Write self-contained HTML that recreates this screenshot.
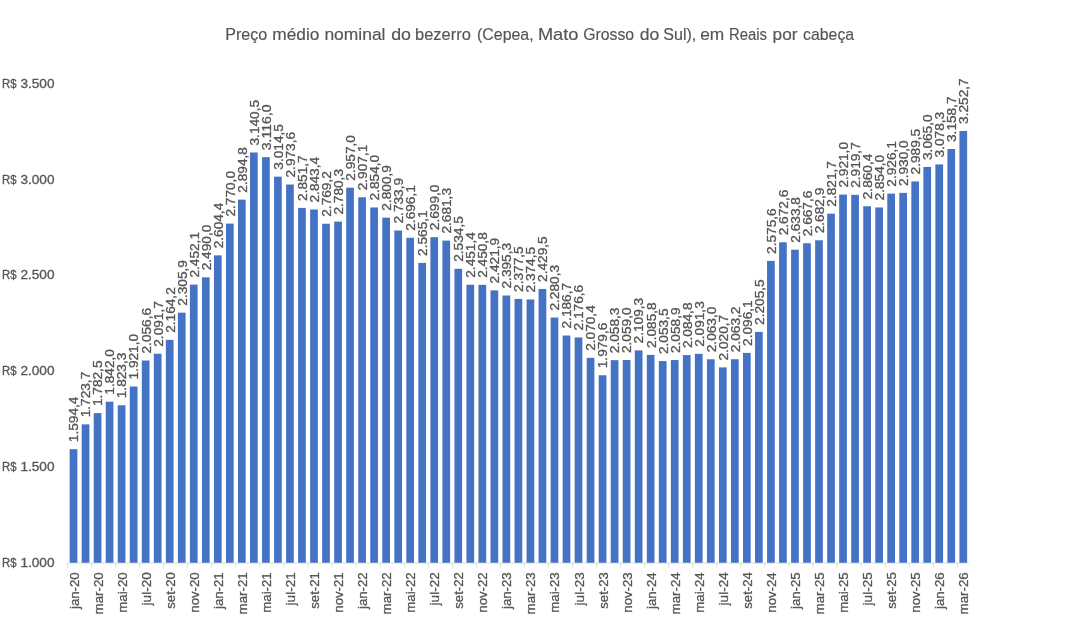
<!DOCTYPE html>
<html lang="pt-BR"><head><meta charset="utf-8"><title>Preço médio nominal do bezerro</title>
<style>html,body{margin:0;padding:0;background:#fff}body{width:1070px;height:629px;overflow:hidden}svg{display:block}text{font-family:"Liberation Sans",Arial,sans-serif;fill:#555;stroke:#555;stroke-width:.3px}</style></head><body>
<svg width="1070" height="629" viewBox="0 0 1070 629">
<rect width="1070" height="629" fill="#fff"/>
<text y="40.1" font-size="15.9" style="stroke-width:.15px"><tspan x="225.2" textLength="42.1" lengthAdjust="spacingAndGlyphs">Preço</tspan> <tspan x="272.3" textLength="47.1" lengthAdjust="spacingAndGlyphs">médio</tspan> <tspan x="324.4" textLength="61.1" lengthAdjust="spacingAndGlyphs">nominal</tspan> <tspan x="391.2" textLength="19.8" lengthAdjust="spacingAndGlyphs">do</tspan> <tspan x="415.0" textLength="55.9" lengthAdjust="spacingAndGlyphs">bezerro</tspan> <tspan x="477.0" textLength="56.6" lengthAdjust="spacingAndGlyphs">(Cepea,</tspan> <tspan x="537.9" textLength="40.6" lengthAdjust="spacingAndGlyphs">Mato</tspan> <tspan x="583.2" textLength="50.9" lengthAdjust="spacingAndGlyphs">Grosso</tspan> <tspan x="639.7" textLength="19.6" lengthAdjust="spacingAndGlyphs">do</tspan> <tspan x="663.3" textLength="33.0" lengthAdjust="spacingAndGlyphs">Sul),</tspan> <tspan x="700.2" textLength="24.1" lengthAdjust="spacingAndGlyphs">em</tspan> <tspan x="729.0" textLength="38.0" lengthAdjust="spacingAndGlyphs">Reais</tspan> <tspan x="772.6" textLength="24.9" lengthAdjust="spacingAndGlyphs">por</tspan> <tspan x="803.1" textLength="51.0" lengthAdjust="spacingAndGlyphs">cabeça</tspan></text>
<text y="567.30" font-size="13.2" lengthAdjust="spacingAndGlyphs"><tspan x="1.97" textLength="14.5" lengthAdjust="spacingAndGlyphs">R$</tspan> <tspan x="20.4" textLength="34.1" lengthAdjust="spacingAndGlyphs">1.000</tspan></text>
<text y="471.35" font-size="13.2" lengthAdjust="spacingAndGlyphs"><tspan x="1.97" textLength="14.5" lengthAdjust="spacingAndGlyphs">R$</tspan> <tspan x="20.4" textLength="34.1" lengthAdjust="spacingAndGlyphs">1.500</tspan></text>
<text y="375.40" font-size="13.2" lengthAdjust="spacingAndGlyphs"><tspan x="1.97" textLength="14.5" lengthAdjust="spacingAndGlyphs">R$</tspan> <tspan x="20.4" textLength="34.1" lengthAdjust="spacingAndGlyphs">2.000</tspan></text>
<text y="279.45" font-size="13.2" lengthAdjust="spacingAndGlyphs"><tspan x="1.97" textLength="14.5" lengthAdjust="spacingAndGlyphs">R$</tspan> <tspan x="20.4" textLength="34.1" lengthAdjust="spacingAndGlyphs">2.500</tspan></text>
<text y="183.50" font-size="13.2" lengthAdjust="spacingAndGlyphs"><tspan x="1.97" textLength="14.5" lengthAdjust="spacingAndGlyphs">R$</tspan> <tspan x="20.4" textLength="34.1" lengthAdjust="spacingAndGlyphs">3.000</tspan></text>
<text y="87.55" font-size="13.2" lengthAdjust="spacingAndGlyphs"><tspan x="1.97" textLength="14.5" lengthAdjust="spacingAndGlyphs">R$</tspan> <tspan x="20.4" textLength="34.1" lengthAdjust="spacingAndGlyphs">3.500</tspan></text>
<g stroke="#DCDCDC" stroke-width="1" fill="none"><path d="M67.5 563.0H969.3"/>
<path d="M67.50 563.0V567.75M91.55 563.0V567.75M115.60 563.0V567.75M139.64 563.0V567.75M163.69 563.0V567.75M187.74 563.0V567.75M211.79 563.0V567.75M235.84 563.0V567.75M259.88 563.0V567.75M283.93 563.0V567.75M307.98 563.0V567.75M332.03 563.0V567.75M356.08 563.0V567.75M380.12 563.0V567.75M404.17 563.0V567.75M428.22 563.0V567.75M452.27 563.0V567.75M476.32 563.0V567.75M500.36 563.0V567.75M524.41 563.0V567.75M548.46 563.0V567.75M572.51 563.0V567.75M596.56 563.0V567.75M620.60 563.0V567.75M644.65 563.0V567.75M668.70 563.0V567.75M692.75 563.0V567.75M716.80 563.0V567.75M740.84 563.0V567.75M764.89 563.0V567.75M788.94 563.0V567.75M812.99 563.0V567.75M837.04 563.0V567.75M861.08 563.0V567.75M885.13 563.0V567.75M909.18 563.0V567.75M933.23 563.0V567.75M957.28 563.0V567.75"/></g>
<g fill="#4472C4">
<rect x="69.66" y="449.18" width="7.7" height="113.57"/>
<rect x="81.69" y="424.37" width="7.7" height="138.38"/>
<rect x="93.71" y="413.09" width="7.7" height="149.66"/>
<rect x="105.73" y="401.67" width="7.7" height="161.08"/>
<rect x="117.76" y="405.26" width="7.7" height="157.49"/>
<rect x="129.78" y="386.51" width="7.7" height="176.24"/>
<rect x="141.81" y="360.49" width="7.7" height="202.26"/>
<rect x="153.83" y="353.75" width="7.7" height="209.00"/>
<rect x="165.85" y="339.84" width="7.7" height="222.91"/>
<rect x="177.88" y="312.65" width="7.7" height="250.10"/>
<rect x="189.90" y="284.59" width="7.7" height="278.16"/>
<rect x="201.93" y="277.32" width="7.7" height="285.43"/>
<rect x="213.95" y="255.37" width="7.7" height="307.38"/>
<rect x="225.97" y="223.59" width="7.7" height="339.16"/>
<rect x="238.00" y="199.64" width="7.7" height="363.11"/>
<rect x="250.02" y="152.49" width="7.7" height="410.26"/>
<rect x="262.05" y="157.19" width="7.7" height="405.56"/>
<rect x="274.07" y="176.67" width="7.7" height="386.08"/>
<rect x="286.09" y="184.52" width="7.7" height="378.23"/>
<rect x="298.12" y="207.91" width="7.7" height="354.84"/>
<rect x="310.14" y="209.50" width="7.7" height="353.25"/>
<rect x="322.17" y="223.74" width="7.7" height="339.01"/>
<rect x="334.19" y="221.61" width="7.7" height="341.14"/>
<rect x="346.21" y="187.70" width="7.7" height="375.05"/>
<rect x="358.24" y="197.28" width="7.7" height="365.47"/>
<rect x="370.26" y="207.47" width="7.7" height="355.28"/>
<rect x="382.29" y="217.66" width="7.7" height="345.09"/>
<rect x="394.31" y="230.51" width="7.7" height="332.24"/>
<rect x="406.33" y="237.77" width="7.7" height="324.98"/>
<rect x="418.36" y="262.91" width="7.7" height="299.84"/>
<rect x="430.38" y="237.21" width="7.7" height="325.54"/>
<rect x="442.41" y="240.61" width="7.7" height="322.14"/>
<rect x="454.43" y="268.78" width="7.7" height="293.97"/>
<rect x="466.45" y="284.73" width="7.7" height="278.02"/>
<rect x="478.48" y="284.84" width="7.7" height="277.91"/>
<rect x="490.50" y="290.39" width="7.7" height="272.36"/>
<rect x="502.53" y="295.49" width="7.7" height="267.26"/>
<rect x="514.55" y="298.91" width="7.7" height="263.84"/>
<rect x="526.57" y="299.48" width="7.7" height="263.27"/>
<rect x="538.60" y="288.93" width="7.7" height="273.82"/>
<rect x="550.62" y="317.56" width="7.7" height="245.19"/>
<rect x="562.65" y="335.52" width="7.7" height="227.23"/>
<rect x="574.67" y="337.46" width="7.7" height="225.29"/>
<rect x="586.69" y="357.84" width="7.7" height="204.91"/>
<rect x="598.72" y="375.26" width="7.7" height="187.49"/>
<rect x="610.74" y="360.16" width="7.7" height="202.59"/>
<rect x="622.77" y="360.03" width="7.7" height="202.72"/>
<rect x="634.79" y="350.38" width="7.7" height="212.37"/>
<rect x="646.81" y="354.88" width="7.7" height="207.87"/>
<rect x="658.84" y="361.08" width="7.7" height="201.67"/>
<rect x="670.86" y="360.05" width="7.7" height="202.70"/>
<rect x="682.89" y="355.08" width="7.7" height="207.67"/>
<rect x="694.91" y="353.83" width="7.7" height="208.92"/>
<rect x="706.93" y="359.26" width="7.7" height="203.49"/>
<rect x="718.96" y="367.38" width="7.7" height="195.37"/>
<rect x="730.98" y="359.22" width="7.7" height="203.53"/>
<rect x="743.01" y="352.91" width="7.7" height="209.84"/>
<rect x="755.03" y="331.91" width="7.7" height="230.84"/>
<rect x="767.05" y="260.89" width="7.7" height="301.86"/>
<rect x="779.08" y="242.28" width="7.7" height="320.47"/>
<rect x="791.10" y="249.72" width="7.7" height="313.03"/>
<rect x="803.13" y="243.24" width="7.7" height="319.51"/>
<rect x="815.15" y="240.30" width="7.7" height="322.45"/>
<rect x="827.17" y="213.67" width="7.7" height="349.08"/>
<rect x="839.20" y="194.61" width="7.7" height="368.14"/>
<rect x="851.22" y="194.86" width="7.7" height="367.89"/>
<rect x="863.25" y="206.24" width="7.7" height="356.51"/>
<rect x="875.27" y="207.47" width="7.7" height="355.28"/>
<rect x="887.29" y="193.63" width="7.7" height="369.12"/>
<rect x="899.32" y="192.88" width="7.7" height="369.87"/>
<rect x="911.34" y="181.46" width="7.7" height="381.29"/>
<rect x="923.37" y="166.98" width="7.7" height="395.77"/>
<rect x="935.39" y="164.42" width="7.7" height="398.33"/>
<rect x="947.41" y="149.00" width="7.7" height="413.75"/>
<rect x="959.44" y="130.96" width="7.7" height="431.79"/>
</g>
<g font-size="13.2">
<text transform="translate(78.36 442.18) rotate(-90)" textLength="45.6" lengthAdjust="spacingAndGlyphs">1.594,4</text>
<text transform="translate(90.39 417.37) rotate(-90)" textLength="45.6" lengthAdjust="spacingAndGlyphs">1.723,7</text>
<text transform="translate(102.41 406.09) rotate(-90)" textLength="45.6" lengthAdjust="spacingAndGlyphs">1.782,5</text>
<text transform="translate(114.43 394.67) rotate(-90)" textLength="45.6" lengthAdjust="spacingAndGlyphs">1.842,0</text>
<text transform="translate(126.46 398.26) rotate(-90)" textLength="45.6" lengthAdjust="spacingAndGlyphs">1.823,3</text>
<text transform="translate(138.48 379.51) rotate(-90)" textLength="45.6" lengthAdjust="spacingAndGlyphs">1.921,0</text>
<text transform="translate(150.51 353.49) rotate(-90)" textLength="45.6" lengthAdjust="spacingAndGlyphs">2.056,6</text>
<text transform="translate(162.53 346.75) rotate(-90)" textLength="45.6" lengthAdjust="spacingAndGlyphs">2.091,7</text>
<text transform="translate(174.55 332.84) rotate(-90)" textLength="45.6" lengthAdjust="spacingAndGlyphs">2.164,2</text>
<text transform="translate(186.58 305.65) rotate(-90)" textLength="45.6" lengthAdjust="spacingAndGlyphs">2.305,9</text>
<text transform="translate(198.60 277.59) rotate(-90)" textLength="45.6" lengthAdjust="spacingAndGlyphs">2.452,1</text>
<text transform="translate(210.63 270.32) rotate(-90)" textLength="45.6" lengthAdjust="spacingAndGlyphs">2.490,0</text>
<text transform="translate(222.65 248.37) rotate(-90)" textLength="45.6" lengthAdjust="spacingAndGlyphs">2.604,4</text>
<text transform="translate(234.67 216.59) rotate(-90)" textLength="45.6" lengthAdjust="spacingAndGlyphs">2.770,0</text>
<text transform="translate(246.70 192.64) rotate(-90)" textLength="45.6" lengthAdjust="spacingAndGlyphs">2.894,8</text>
<text transform="translate(258.72 145.49) rotate(-90)" textLength="45.6" lengthAdjust="spacingAndGlyphs">3.140,5</text>
<text transform="translate(270.75 150.19) rotate(-90)" textLength="45.6" lengthAdjust="spacingAndGlyphs">3.116,0</text>
<text transform="translate(282.77 169.67) rotate(-90)" textLength="45.6" lengthAdjust="spacingAndGlyphs">3.014,5</text>
<text transform="translate(294.79 177.52) rotate(-90)" textLength="45.6" lengthAdjust="spacingAndGlyphs">2.973,6</text>
<text transform="translate(306.82 200.91) rotate(-90)" textLength="45.6" lengthAdjust="spacingAndGlyphs">2.851,7</text>
<text transform="translate(318.84 202.50) rotate(-90)" textLength="45.6" lengthAdjust="spacingAndGlyphs">2.843,4</text>
<text transform="translate(330.87 216.74) rotate(-90)" textLength="45.6" lengthAdjust="spacingAndGlyphs">2.769,2</text>
<text transform="translate(342.89 214.61) rotate(-90)" textLength="45.6" lengthAdjust="spacingAndGlyphs">2.780,3</text>
<text transform="translate(354.91 180.70) rotate(-90)" textLength="45.6" lengthAdjust="spacingAndGlyphs">2.957,0</text>
<text transform="translate(366.94 190.28) rotate(-90)" textLength="45.6" lengthAdjust="spacingAndGlyphs">2.907,1</text>
<text transform="translate(378.96 200.47) rotate(-90)" textLength="45.6" lengthAdjust="spacingAndGlyphs">2.854,0</text>
<text transform="translate(390.99 210.66) rotate(-90)" textLength="45.6" lengthAdjust="spacingAndGlyphs">2.800,9</text>
<text transform="translate(403.01 223.51) rotate(-90)" textLength="45.6" lengthAdjust="spacingAndGlyphs">2.733,9</text>
<text transform="translate(415.03 230.77) rotate(-90)" textLength="45.6" lengthAdjust="spacingAndGlyphs">2.696,1</text>
<text transform="translate(427.06 255.91) rotate(-90)" textLength="45.6" lengthAdjust="spacingAndGlyphs">2.565,1</text>
<text transform="translate(439.08 230.21) rotate(-90)" textLength="45.6" lengthAdjust="spacingAndGlyphs">2.699,0</text>
<text transform="translate(451.11 233.61) rotate(-90)" textLength="45.6" lengthAdjust="spacingAndGlyphs">2.681,3</text>
<text transform="translate(463.13 261.78) rotate(-90)" textLength="45.6" lengthAdjust="spacingAndGlyphs">2.534,5</text>
<text transform="translate(475.15 277.73) rotate(-90)" textLength="45.6" lengthAdjust="spacingAndGlyphs">2.451,4</text>
<text transform="translate(487.18 277.84) rotate(-90)" textLength="45.6" lengthAdjust="spacingAndGlyphs">2.450,8</text>
<text transform="translate(499.20 283.39) rotate(-90)" textLength="45.6" lengthAdjust="spacingAndGlyphs">2.421,9</text>
<text transform="translate(511.23 288.49) rotate(-90)" textLength="45.6" lengthAdjust="spacingAndGlyphs">2.395,3</text>
<text transform="translate(523.25 291.91) rotate(-90)" textLength="45.6" lengthAdjust="spacingAndGlyphs">2.377,5</text>
<text transform="translate(535.27 292.48) rotate(-90)" textLength="45.6" lengthAdjust="spacingAndGlyphs">2.374,5</text>
<text transform="translate(547.30 281.93) rotate(-90)" textLength="45.6" lengthAdjust="spacingAndGlyphs">2.429,5</text>
<text transform="translate(559.32 310.56) rotate(-90)" textLength="45.6" lengthAdjust="spacingAndGlyphs">2.280,3</text>
<text transform="translate(571.35 328.52) rotate(-90)" textLength="45.6" lengthAdjust="spacingAndGlyphs">2.186,7</text>
<text transform="translate(583.37 330.46) rotate(-90)" textLength="45.6" lengthAdjust="spacingAndGlyphs">2.176,6</text>
<text transform="translate(595.39 350.84) rotate(-90)" textLength="45.6" lengthAdjust="spacingAndGlyphs">2.070,4</text>
<text transform="translate(607.42 368.26) rotate(-90)" textLength="45.6" lengthAdjust="spacingAndGlyphs">1.979,6</text>
<text transform="translate(619.44 353.16) rotate(-90)" textLength="45.6" lengthAdjust="spacingAndGlyphs">2.058,3</text>
<text transform="translate(631.47 353.03) rotate(-90)" textLength="45.6" lengthAdjust="spacingAndGlyphs">2.059,0</text>
<text transform="translate(643.49 343.38) rotate(-90)" textLength="45.6" lengthAdjust="spacingAndGlyphs">2.109,3</text>
<text transform="translate(655.51 347.88) rotate(-90)" textLength="45.6" lengthAdjust="spacingAndGlyphs">2.085,8</text>
<text transform="translate(667.54 354.08) rotate(-90)" textLength="45.6" lengthAdjust="spacingAndGlyphs">2.053,5</text>
<text transform="translate(679.56 353.05) rotate(-90)" textLength="45.6" lengthAdjust="spacingAndGlyphs">2.058,9</text>
<text transform="translate(691.59 348.08) rotate(-90)" textLength="45.6" lengthAdjust="spacingAndGlyphs">2.084,8</text>
<text transform="translate(703.61 346.83) rotate(-90)" textLength="45.6" lengthAdjust="spacingAndGlyphs">2.091,3</text>
<text transform="translate(715.63 352.26) rotate(-90)" textLength="45.6" lengthAdjust="spacingAndGlyphs">2.063,0</text>
<text transform="translate(727.66 360.38) rotate(-90)" textLength="45.6" lengthAdjust="spacingAndGlyphs">2.020,7</text>
<text transform="translate(739.68 352.22) rotate(-90)" textLength="45.6" lengthAdjust="spacingAndGlyphs">2.063,2</text>
<text transform="translate(751.71 345.91) rotate(-90)" textLength="45.6" lengthAdjust="spacingAndGlyphs">2.096,1</text>
<text transform="translate(763.73 324.91) rotate(-90)" textLength="45.6" lengthAdjust="spacingAndGlyphs">2.205,5</text>
<text transform="translate(775.75 253.89) rotate(-90)" textLength="45.6" lengthAdjust="spacingAndGlyphs">2.575,6</text>
<text transform="translate(787.78 235.28) rotate(-90)" textLength="45.6" lengthAdjust="spacingAndGlyphs">2.672,6</text>
<text transform="translate(799.80 242.72) rotate(-90)" textLength="45.6" lengthAdjust="spacingAndGlyphs">2.633,8</text>
<text transform="translate(811.83 236.24) rotate(-90)" textLength="45.6" lengthAdjust="spacingAndGlyphs">2.667,6</text>
<text transform="translate(823.85 233.30) rotate(-90)" textLength="45.6" lengthAdjust="spacingAndGlyphs">2.682,9</text>
<text transform="translate(835.87 206.67) rotate(-90)" textLength="45.6" lengthAdjust="spacingAndGlyphs">2.821,7</text>
<text transform="translate(847.90 187.61) rotate(-90)" textLength="45.6" lengthAdjust="spacingAndGlyphs">2.921,0</text>
<text transform="translate(859.92 187.86) rotate(-90)" textLength="45.6" lengthAdjust="spacingAndGlyphs">2.919,7</text>
<text transform="translate(871.95 199.24) rotate(-90)" textLength="45.6" lengthAdjust="spacingAndGlyphs">2.860,4</text>
<text transform="translate(883.97 200.47) rotate(-90)" textLength="45.6" lengthAdjust="spacingAndGlyphs">2.854,0</text>
<text transform="translate(895.99 186.63) rotate(-90)" textLength="45.6" lengthAdjust="spacingAndGlyphs">2.926,1</text>
<text transform="translate(908.02 185.88) rotate(-90)" textLength="45.6" lengthAdjust="spacingAndGlyphs">2.930,0</text>
<text transform="translate(920.04 174.46) rotate(-90)" textLength="45.6" lengthAdjust="spacingAndGlyphs">2.989,5</text>
<text transform="translate(932.07 159.98) rotate(-90)" textLength="45.6" lengthAdjust="spacingAndGlyphs">3.065,0</text>
<text transform="translate(944.09 157.42) rotate(-90)" textLength="45.6" lengthAdjust="spacingAndGlyphs">3.078,3</text>
<text transform="translate(956.11 142.00) rotate(-90)" textLength="45.6" lengthAdjust="spacingAndGlyphs">3.158,7</text>
<text transform="translate(968.14 123.96) rotate(-90)" textLength="45.6" lengthAdjust="spacingAndGlyphs">3.252,7</text>
</g>
<g font-size="13.2" text-anchor="end">
<text transform="translate(78.51 572.3) rotate(-90)" textLength="36.7" lengthAdjust="spacingAndGlyphs">jan-20</text>
<text transform="translate(102.56 572.3) rotate(-90)" textLength="42.1" lengthAdjust="spacingAndGlyphs">mar-20</text>
<text transform="translate(126.61 572.3) rotate(-90)" textLength="40.4" lengthAdjust="spacingAndGlyphs">mai-20</text>
<text transform="translate(150.66 572.3) rotate(-90)" textLength="33.1" lengthAdjust="spacingAndGlyphs">jul-20</text>
<text transform="translate(174.70 572.3) rotate(-90)" textLength="36.4" lengthAdjust="spacingAndGlyphs">set-20</text>
<text transform="translate(198.75 572.3) rotate(-90)" textLength="40.4" lengthAdjust="spacingAndGlyphs">nov-20</text>
<text transform="translate(222.80 572.3) rotate(-90)" textLength="36.7" lengthAdjust="spacingAndGlyphs">jan-21</text>
<text transform="translate(246.85 572.3) rotate(-90)" textLength="42.1" lengthAdjust="spacingAndGlyphs">mar-21</text>
<text transform="translate(270.90 572.3) rotate(-90)" textLength="40.4" lengthAdjust="spacingAndGlyphs">mai-21</text>
<text transform="translate(294.94 572.3) rotate(-90)" textLength="33.1" lengthAdjust="spacingAndGlyphs">jul-21</text>
<text transform="translate(318.99 572.3) rotate(-90)" textLength="36.4" lengthAdjust="spacingAndGlyphs">set-21</text>
<text transform="translate(343.04 572.3) rotate(-90)" textLength="40.4" lengthAdjust="spacingAndGlyphs">nov-21</text>
<text transform="translate(367.09 572.3) rotate(-90)" textLength="36.7" lengthAdjust="spacingAndGlyphs">jan-22</text>
<text transform="translate(391.14 572.3) rotate(-90)" textLength="42.1" lengthAdjust="spacingAndGlyphs">mar-22</text>
<text transform="translate(415.18 572.3) rotate(-90)" textLength="40.4" lengthAdjust="spacingAndGlyphs">mai-22</text>
<text transform="translate(439.23 572.3) rotate(-90)" textLength="33.1" lengthAdjust="spacingAndGlyphs">jul-22</text>
<text transform="translate(463.28 572.3) rotate(-90)" textLength="36.4" lengthAdjust="spacingAndGlyphs">set-22</text>
<text transform="translate(487.33 572.3) rotate(-90)" textLength="40.4" lengthAdjust="spacingAndGlyphs">nov-22</text>
<text transform="translate(511.38 572.3) rotate(-90)" textLength="36.7" lengthAdjust="spacingAndGlyphs">jan-23</text>
<text transform="translate(535.42 572.3) rotate(-90)" textLength="42.1" lengthAdjust="spacingAndGlyphs">mar-23</text>
<text transform="translate(559.47 572.3) rotate(-90)" textLength="40.4" lengthAdjust="spacingAndGlyphs">mai-23</text>
<text transform="translate(583.52 572.3) rotate(-90)" textLength="33.1" lengthAdjust="spacingAndGlyphs">jul-23</text>
<text transform="translate(607.57 572.3) rotate(-90)" textLength="36.4" lengthAdjust="spacingAndGlyphs">set-23</text>
<text transform="translate(631.62 572.3) rotate(-90)" textLength="40.4" lengthAdjust="spacingAndGlyphs">nov-23</text>
<text transform="translate(655.66 572.3) rotate(-90)" textLength="36.7" lengthAdjust="spacingAndGlyphs">jan-24</text>
<text transform="translate(679.71 572.3) rotate(-90)" textLength="42.1" lengthAdjust="spacingAndGlyphs">mar-24</text>
<text transform="translate(703.76 572.3) rotate(-90)" textLength="40.4" lengthAdjust="spacingAndGlyphs">mai-24</text>
<text transform="translate(727.81 572.3) rotate(-90)" textLength="33.1" lengthAdjust="spacingAndGlyphs">jul-24</text>
<text transform="translate(751.86 572.3) rotate(-90)" textLength="36.4" lengthAdjust="spacingAndGlyphs">set-24</text>
<text transform="translate(775.90 572.3) rotate(-90)" textLength="40.4" lengthAdjust="spacingAndGlyphs">nov-24</text>
<text transform="translate(799.95 572.3) rotate(-90)" textLength="36.7" lengthAdjust="spacingAndGlyphs">jan-25</text>
<text transform="translate(824.00 572.3) rotate(-90)" textLength="42.1" lengthAdjust="spacingAndGlyphs">mar-25</text>
<text transform="translate(848.05 572.3) rotate(-90)" textLength="40.4" lengthAdjust="spacingAndGlyphs">mai-25</text>
<text transform="translate(872.10 572.3) rotate(-90)" textLength="33.1" lengthAdjust="spacingAndGlyphs">jul-25</text>
<text transform="translate(896.14 572.3) rotate(-90)" textLength="36.4" lengthAdjust="spacingAndGlyphs">set-25</text>
<text transform="translate(920.19 572.3) rotate(-90)" textLength="40.4" lengthAdjust="spacingAndGlyphs">nov-25</text>
<text transform="translate(944.24 572.3) rotate(-90)" textLength="36.7" lengthAdjust="spacingAndGlyphs">jan-26</text>
<text transform="translate(968.29 572.3) rotate(-90)" textLength="42.1" lengthAdjust="spacingAndGlyphs">mar-26</text>
</g>
</svg></body></html>
